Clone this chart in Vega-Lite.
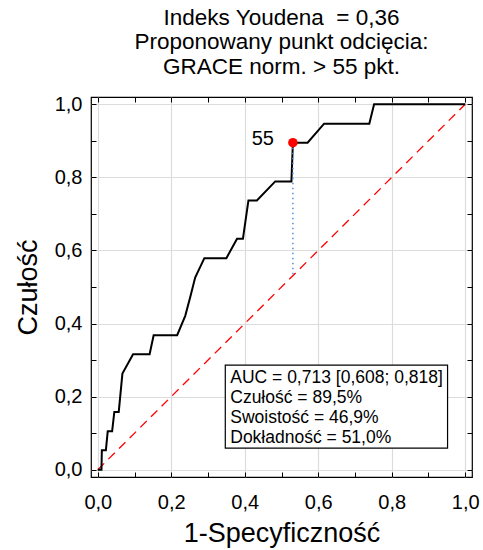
{
  "$schema": "https://vega.github.io/schema/vega-lite/v6.json",
  "width": 381,
  "height": 380,
  "autosize": "none",
  "padding": {"left": 91, "top": 97, "right": 11, "bottom": 73},
  "background": "white",
  "title": {
    "text": ["Indeks Youdena\u00a0 = 0,36", "Proponowany punkt odcięcia:", "GRACE norm. > 55 pkt."],
    "font": "Liberation Sans",
    "fontSize": 22.5,
    "fontWeight": "normal",
    "color": "black",
    "lineHeight": 24.5,
    "anchor": "middle",
    "offset": 16
  },
  "datasets": {
    "roc": [
      {"i": 1, "fpr": 0.0, "sens": 0.0},
      {"i": 2, "fpr": 0.01, "sens": 0.0},
      {"i": 3, "fpr": 0.011, "sens": 0.053},
      {"i": 4, "fpr": 0.022, "sens": 0.053},
      {"i": 5, "fpr": 0.027, "sens": 0.105},
      {"i": 6, "fpr": 0.039, "sens": 0.105},
      {"i": 7, "fpr": 0.045, "sens": 0.158},
      {"i": 8, "fpr": 0.057, "sens": 0.158},
      {"i": 9, "fpr": 0.067, "sens": 0.263},
      {"i": 10, "fpr": 0.096, "sens": 0.316},
      {"i": 11, "fpr": 0.141, "sens": 0.316},
      {"i": 12, "fpr": 0.152, "sens": 0.368},
      {"i": 13, "fpr": 0.216, "sens": 0.368},
      {"i": 14, "fpr": 0.238, "sens": 0.421},
      {"i": 15, "fpr": 0.252, "sens": 0.474},
      {"i": 16, "fpr": 0.265, "sens": 0.526},
      {"i": 17, "fpr": 0.29, "sens": 0.579},
      {"i": 18, "fpr": 0.35, "sens": 0.579},
      {"i": 19, "fpr": 0.379, "sens": 0.632},
      {"i": 20, "fpr": 0.395, "sens": 0.632},
      {"i": 21, "fpr": 0.41, "sens": 0.737},
      {"i": 22, "fpr": 0.433, "sens": 0.737},
      {"i": 23, "fpr": 0.483, "sens": 0.789},
      {"i": 24, "fpr": 0.527, "sens": 0.789},
      {"i": 25, "fpr": 0.531, "sens": 0.895},
      {"i": 26, "fpr": 0.571, "sens": 0.895},
      {"i": 27, "fpr": 0.616, "sens": 0.947},
      {"i": 28, "fpr": 0.739, "sens": 0.947},
      {"i": 29, "fpr": 0.752, "sens": 1.0},
      {"i": 30, "fpr": 1.0, "sens": 1.0}
    ],
    "cut": [
      {"fpr": 0.531, "sens": 0.895, "label": "55"}
    ],
    "one": [{}]
  },
  "layer": [
    {
      "data": {"name": "one"},
      "mark": {"type": "rule", "color": "#ff0000", "strokeWidth": 1.3, "strokeDash": [9, 6]},
      "encoding": {
        "x": {"datum": 0, "type": "quantitative", "scale": {"domain": [-0.0185, 1.0185], "nice": false, "zero": false},
          "axis": {"orient": "top", "values": [0,0.1,0.2,0.3,0.4,0.5,0.6,0.7,0.8,0.9,1], "labels": false, "grid": false, "domain": false, "tickSize": -5, "tickColor": "black", "tickWidth": 1, "title": null}},
        "y": {"datum": 0, "type": "quantitative", "scale": {"domain": [-0.02, 1.02], "nice": false, "zero": false},
          "axis": {"orient": "right", "values": [0,0.1,0.2,0.3,0.4,0.5,0.6,0.7,0.8,0.9,1], "labels": false, "grid": false, "domain": false, "tickSize": -5, "tickColor": "black", "tickWidth": 1, "title": null}},
        "x2": {"datum": 1},
        "y2": {"datum": 1}
      }
    },
    {
      "data": {"name": "roc"},
      "mark": {"type": "line", "color": "black", "strokeWidth": 2, "interpolate": "linear"},
      "encoding": {
        "x": {"field": "fpr", "type": "quantitative", "scale": {"domain": [-0.0185, 1.0185], "nice": false, "zero": false},
          "axis": {"orient": "bottom", "values": [0,0.1,0.2,0.3,0.4,0.5,0.6,0.7,0.8,0.9,1],
            "labelExpr": "round(datum.value*10)%2==0 ? replace(format(datum.value,'.1f'),'.',',') : ''",
            "labelFont": "Liberation Sans", "labelFontSize": 20, "labelColor": "black", "labelPadding": 20, "labelFlush": false,
            "grid": true, "gridColor": "#dcdcdc", "gridWidth": 1.2,
            "gridOpacity": {"condition": {"test": "round(datum.value*10)%2!=0", "value": 0}, "value": 1},
            "domain": false, "tickSize": -5, "tickColor": "black", "tickWidth": 1,
            "title": "1-Specyficzność", "titleFont": "Liberation Sans", "titleFontSize": 27, "titleFontWeight": "normal", "titleColor": "black", "titlePadding": 8}},
        "y": {"field": "sens", "type": "quantitative", "scale": {"domain": [-0.02, 1.02], "nice": false, "zero": false},
          "axis": {"orient": "left", "values": [0,0.1,0.2,0.3,0.4,0.5,0.6,0.7,0.8,0.9,1],
            "labelExpr": "round(datum.value*10)%2==0 ? replace(format(datum.value,'.1f'),'.',',') : ''",
            "labelFont": "Liberation Sans", "labelFontSize": 20, "labelColor": "black", "labelPadding": 14, "labelFlush": false,
            "grid": true, "gridColor": "#dcdcdc", "gridWidth": 1.2,
            "gridOpacity": {"condition": {"test": "round(datum.value*10)%2!=0", "value": 0}, "value": 1},
            "domain": false, "tickSize": -5, "tickColor": "black", "tickWidth": 1,
            "title": "Czułość", "titleFont": "Liberation Sans", "titleFontSize": 27, "titleFontWeight": "normal", "titleColor": "black", "titlePadding": 12}},
        "order": {"field": "i", "type": "quantitative"}
      }
    },
    {
      "data": {"name": "cut"},
      "mark": {"type": "rule", "color": "#5b8bd6", "strokeWidth": 1.5, "strokeDash": [1.5, 3.5]},
      "encoding": {
        "x": {"field": "fpr", "type": "quantitative", "scale": {"domain": [-0.0185, 1.0185], "nice": false, "zero": false}, "axis": null},
        "y": {"field": "sens", "type": "quantitative", "scale": {"domain": [-0.02, 1.02], "nice": false, "zero": false}, "axis": null},
        "y2": {"field": "fpr"}
      }
    },
    {
      "data": {"name": "cut"},
      "mark": {"type": "point", "filled": true, "color": "#ff0000", "size": 90, "opacity": 1},
      "encoding": {
        "x": {"field": "fpr", "type": "quantitative", "scale": {"domain": [-0.0185, 1.0185], "nice": false, "zero": false}, "axis": null},
        "y": {"field": "sens", "type": "quantitative", "scale": {"domain": [-0.02, 1.02], "nice": false, "zero": false}, "axis": null}
      }
    },
    {
      "data": {"name": "cut"},
      "mark": {"type": "text", "font": "Liberation Sans", "fontSize": 20, "color": "black", "align": "right", "baseline": "alphabetic", "dx": -19, "dy": 2},
      "encoding": {
        "x": {"field": "fpr", "type": "quantitative", "scale": {"domain": [-0.0185, 1.0185], "nice": false, "zero": false}, "axis": null},
        "y": {"field": "sens", "type": "quantitative", "scale": {"domain": [-0.02, 1.02], "nice": false, "zero": false}, "axis": null},
        "text": {"field": "label"}
      }
    },
    {
      "data": {"name": "one"},
      "mark": {"type": "rect", "fill": "white", "stroke": "black", "strokeWidth": 1.2},
      "encoding": {
        "x": {"datum": 0.347, "type": "quantitative", "scale": {"domain": [-0.0185, 1.0185], "nice": false, "zero": false}, "axis": null},
        "x2": {"datum": 0.952},
        "y": {"datum": 0.286, "type": "quantitative", "scale": {"domain": [-0.02, 1.02], "nice": false, "zero": false}, "axis": null},
        "y2": {"datum": 0.059}
      }
    },
    {
      "data": {"name": "one"},
      "mark": {"type": "text", "font": "Liberation Sans", "fontSize": 17.5, "color": "black", "align": "left", "baseline": "alphabetic", "lineHeight": 20,
        "text": ["AUC = 0,713 [0,608; 0,818]", "Czułość = 89,5%", "Swoistość = 46,9%", "Dokładność = 51,0%"]},
      "encoding": {
        "x": {"datum": 0.3605, "type": "quantitative", "scale": {"domain": [-0.0185, 1.0185], "nice": false, "zero": false}, "axis": null},
        "y": {"datum": 0.2386, "type": "quantitative", "scale": {"domain": [-0.02, 1.02], "nice": false, "zero": false}, "axis": null}
      }
    }
  ],
  "resolve": {"axis": {"x": "independent", "y": "independent"}},
  "config": {
    "view": {"stroke": "black", "strokeWidth": 1.2},
    "font": "Liberation Sans"
  }
}
